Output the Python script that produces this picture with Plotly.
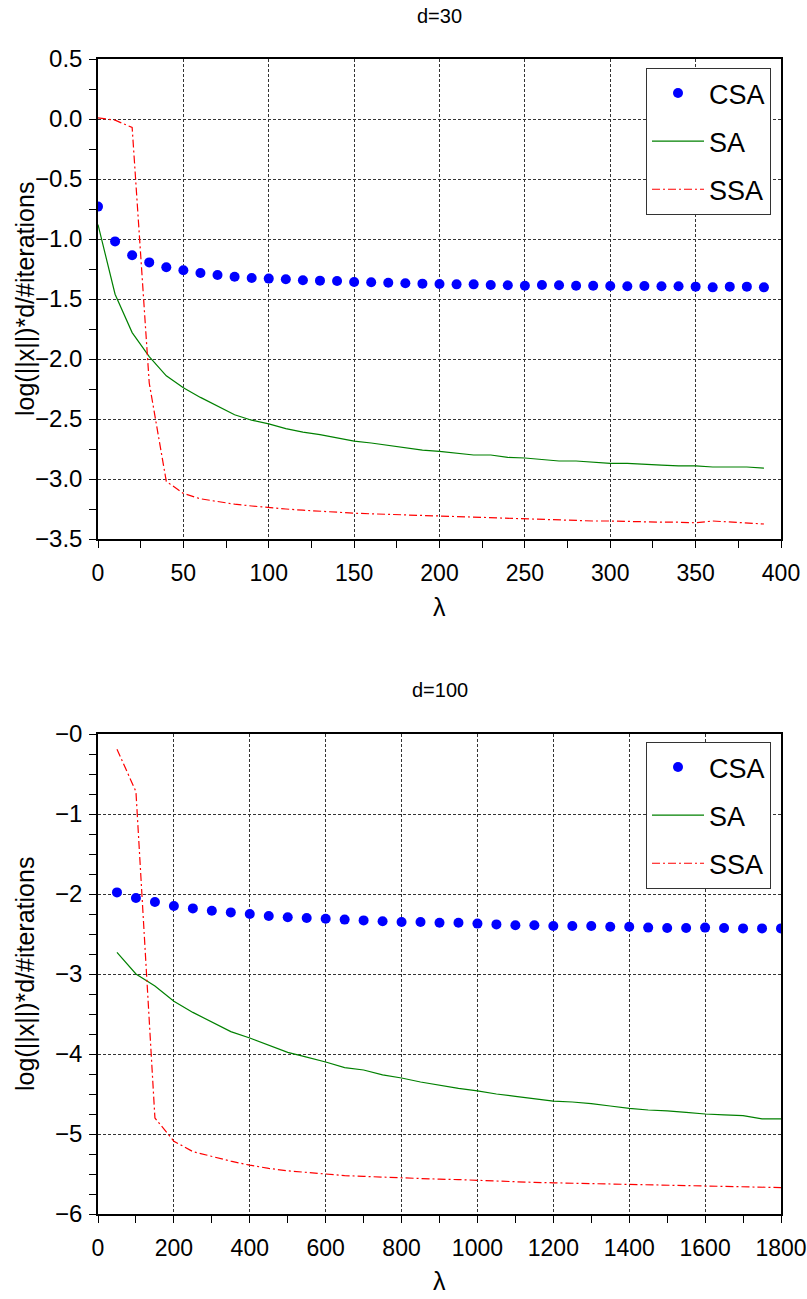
import plotly.graph_objects as go

# ---------------- data: d = 30 ----------------
lam30 = [i * 10 for i in range(40)]
csa30 = [-0.73, -1.02, -1.135, -1.195, -1.235, -1.26, -1.283, -1.30, -1.314, -1.325,
         -1.33, -1.336, -1.344, -1.347, -1.35, -1.358, -1.361, -1.364, -1.369, -1.372,
         -1.375, -1.378, -1.378, -1.383, -1.386, -1.389, -1.383, -1.386, -1.389, -1.389,
         -1.392, -1.394, -1.392, -1.394, -1.394, -1.397, -1.403, -1.397, -1.397, -1.403]
sa30 = [-0.88, -1.46, -1.78, -1.98, -2.14, -2.24, -2.32, -2.39, -2.465, -2.51,
        -2.54, -2.58, -2.61, -2.63, -2.66, -2.685, -2.70, -2.72, -2.745, -2.76,
        -2.77, -2.785, -2.80, -2.80, -2.82, -2.825, -2.84, -2.85, -2.85, -2.86,
        -2.87, -2.87, -2.88, -2.885, -2.89, -2.89, -2.90, -2.90, -2.90, -2.91]
ssa30 = [0.01, -0.01, -0.07, -2.2, -3.02, -3.12, -3.165, -3.19, -3.21, -3.225,
         -3.24, -3.25, -3.26, -3.27, -3.28, -3.285, -3.29, -3.295, -3.30, -3.305,
         -3.31, -3.315, -3.32, -3.325, -3.33, -3.335, -3.34, -3.34, -3.345, -3.35,
         -3.35, -3.355, -3.355, -3.36, -3.36, -3.365, -3.35, -3.36, -3.37, -3.375]

# ---------------- data: d = 100 ----------------
lam100 = [50 * (i + 1) for i in range(36)]
csa100 = [-1.98, -2.05, -2.10, -2.15, -2.18, -2.21, -2.23, -2.25, -2.275, -2.29,
          -2.30, -2.31, -2.32, -2.33, -2.34, -2.35, -2.35, -2.36, -2.36, -2.37,
          -2.38, -2.39, -2.39, -2.40, -2.40, -2.40, -2.41, -2.41, -2.42, -2.425,
          -2.425, -2.42, -2.425, -2.43, -2.43, -2.43]
sa100 = [-2.73, -3.0, -3.15, -3.34, -3.48, -3.60, -3.72, -3.80, -3.89, -3.98,
         -4.04, -4.10, -4.17, -4.20, -4.26, -4.30, -4.35, -4.39, -4.43, -4.46,
         -4.50, -4.53, -4.56, -4.59, -4.60, -4.62, -4.65, -4.68, -4.70, -4.71,
         -4.73, -4.75, -4.76, -4.77, -4.81, -4.81]
ssa100 = [-0.19, -0.72, -4.80, -5.09, -5.22, -5.28, -5.34, -5.39, -5.43, -5.46,
          -5.48, -5.50, -5.52, -5.53, -5.54, -5.55, -5.56, -5.565, -5.57, -5.58,
          -5.59, -5.60, -5.605, -5.61, -5.615, -5.62, -5.625, -5.63, -5.635, -5.64,
          -5.645, -5.65, -5.655, -5.66, -5.665, -5.67]

y100_vals = [-6, -5, -4, -3, -2, -1, 0]
y100_text = ["\u22126", "\u22125", "\u22124", "\u22123", "\u22122", "\u22121", "\u22120"]

FONT = "Liberation Sans, Arial, sans-serif"
BLUE = "#0000ff"
GREEN = "#008000"
RED = "#ff0000"
SSA_DASH = "8px,3px,2px,3px"

fig = go.Figure()

def add_set(x, csa, sa, ssa, xa, ya, leg):
    fig.add_trace(go.Scatter(x=x, y=csa, mode="markers", name="CSA",
                             marker=dict(color=BLUE, size=10),
                             xaxis=xa, yaxis=ya, legend=leg, legendgroup=leg + "a"))
    fig.add_trace(go.Scatter(x=x, y=sa, mode="lines", name="SA",
                             line=dict(color=GREEN, width=1.2),
                             xaxis=xa, yaxis=ya, legend=leg, legendgroup=leg + "b"))
    fig.add_trace(go.Scatter(x=x, y=ssa, mode="lines", name="SSA",
                             line=dict(color=RED, width=1.2, dash=SSA_DASH),
                             xaxis=xa, yaxis=ya, legend=leg, legendgroup=leg + "c"))

add_set(lam30, csa30, sa30, ssa30, "x", "y", "legend")
add_set(lam100, csa100, sa100, ssa100, "x2", "y2", "legend2")

W, H = 807, 1299
PL, PR, PT, PB = 98, 781, 59, 1214          # plot area in window pixels
L, T = PL, PT
R = W - PR
B = H - PB
ph = PB - PT
pw = PR - PL

def py(pix):
    return (PB - pix) / ph

def px(pix):
    return (pix - PL) / pw

axis_common = dict(
    showline=True, linecolor="black", linewidth=1.5, mirror=True,
    showgrid=True, gridcolor="#333333", gridwidth=1, griddash="3px,2px",
    ticks="outside", ticklen=7, tickcolor="black", tickwidth=1,
    zeroline=False, automargin=False,
)
minor_common = dict(ticks="outside", ticklen=7, tickcolor="black", showgrid=False)
xfont = dict(family=FONT, size=23, color="black")
yfont = dict(family=FONT, size=24, color="black")

legend_common = dict(
    bgcolor="white", bordercolor="#333333", borderwidth=1,
    font=dict(family=FONT, size=27, color="black"),
    xanchor="right", yanchor="top", tracegroupgap=10, itemwidth=52,
)

fig.update_layout(
    width=W, height=H,
    margin=dict(l=L, r=R, t=T, b=B, autoexpand=False),
    paper_bgcolor="white", plot_bgcolor="white",
    font=dict(family=FONT, color="black"),
    hovermode=False,
    xaxis=dict(domain=[0, 1], range=[0, 400], anchor="y", dtick=50,
               minor=dict(dtick=25, **minor_common), tickfont=xfont,
               ticklabelstandoff=6, **axis_common),
    yaxis=dict(domain=[py(539), 1], range=[-3.5, 0.5], anchor="x", dtick=0.5, tickformat=".1f",
               minor=dict(dtick=0.25, **minor_common), tickfont=yfont,
               ticklabelstandoff=2, **axis_common),
    xaxis2=dict(domain=[0, 1], range=[0, 1800], anchor="y2", dtick=200,
                minor=dict(dtick=100, **minor_common), tickfont=xfont,
                ticklabelstandoff=6, **axis_common),
    yaxis2=dict(domain=[0, py(734)], range=[-6, 0], anchor="x2",
                tickvals=y100_vals, ticktext=y100_text,
                minor=dict(dtick=0.25, **minor_common), tickfont=yfont,
                ticklabelstandoff=2, **axis_common),
    legend=dict(x=px(771), y=py(68), **legend_common),
    legend2=dict(x=px(771), y=py(742), **legend_common),
    showlegend=True,
)

annos = [
    dict(text="d=30", x=0.5, y=py(16), size=20, angle=0),
    dict(text="d=100", x=0.5, y=py(690), size=20, angle=0),
    dict(text="\u03bb", x=0.5, y=py(607), size=25, angle=0),
    dict(text="\u03bb", x=0.5, y=py(1281), size=25, angle=0),
    dict(text="log(||x||)*d/#iterations", x=px(25), y=py(299), size=25, angle=-90),
    dict(text="log(||x||)*d/#iterations", x=px(25), y=py(974), size=25, angle=-90),
]
for a in annos:
    fig.add_annotation(text=a["text"], x=a["x"], y=a["y"], xref="paper", yref="paper",
                       xanchor="center", yanchor="middle", showarrow=False,
                       textangle=a["angle"], font=dict(family=FONT, size=a["size"], color="black"))

fig.write_html("out.html",
               config={"displayModeBar": False},
               post_script="document.body.style.margin='0';document.body.style.overflow='hidden';")
